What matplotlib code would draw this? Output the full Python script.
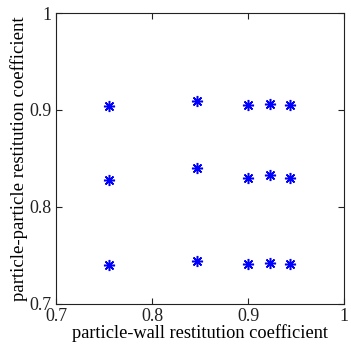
import matplotlib
matplotlib.use('Agg')
from matplotlib import pyplot as plt

# particle-wall restitution coefficient (x) for each column of points
wall_coef = [0.755, 0.847, 0.900, 0.923, 0.944]
# particle-particle restitution coefficient (y), one row per level
pp_high = [0.904, 0.909, 0.905, 0.906, 0.905]
pp_mid = [0.828, 0.840, 0.830, 0.833, 0.830]
pp_low = [0.740, 0.744, 0.741, 0.742, 0.741]

xticks = [0.7, 0.8, 0.9, 1.0]
xtick_labels = ['0.7', '0.8', '0.9', '1']
yticks = [0.7, 0.8, 0.9, 1.0]
ytick_labels = ['0.7', '0.8', '0.9', '1']

plt.rcParams['font.family'] = ['Liberation Serif', 'DejaVu Serif']

fig = plt.figure(figsize=(3.51, 3.45), dpi=100)
ax = fig.add_axes([56 / 351, 41 / 345, 288 / 351, 291 / 345])

for ys in (pp_high, pp_mid, pp_low):
    ax.plot(wall_coef, ys, linestyle='none', marker=(8, 2, 0),
            markersize=8, markeredgewidth=1.1, color='#0000ff')

ax.set_xlim(0.7, 1.0)
ax.set_ylim(0.7, 1.0)
ax.set_xticks(xticks)
ax.set_xticklabels(xtick_labels)
ax.set_yticks(yticks)
ax.set_yticklabels(ytick_labels)
ax.tick_params(direction='in', top=True, right=True, labelsize=13,
               length=4, width=0.8, colors='#222222', pad=3)
for spine in ax.spines.values():
    spine.set_color('#222222')
    spine.set_linewidth(0.8)

ax.set_xlabel('particle-wall restitution coefficient', fontsize=13.2, labelpad=-0.5)
ax.set_ylabel('particle-particle restitution coefficient', fontsize=13.5, labelpad=1)

plt.savefig('out.png', dpi=100, facecolor='w')
